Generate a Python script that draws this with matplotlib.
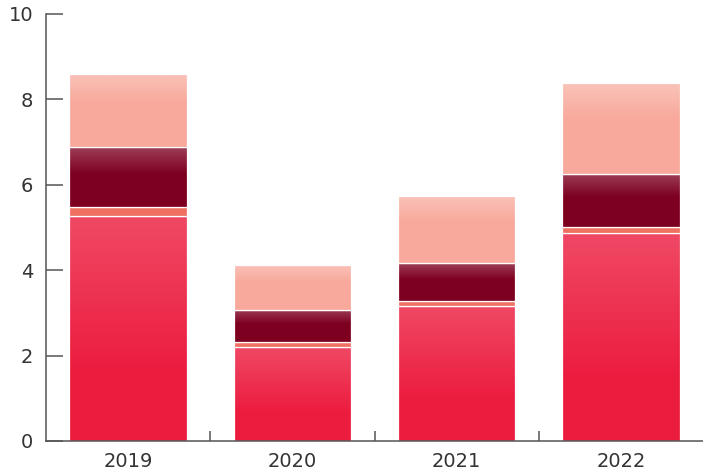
import matplotlib
matplotlib.use("Agg")
import matplotlib.pyplot as plt
import numpy as np

years = ["2019", "2020", "2021", "2022"]
seg1 = [5.28, 2.21, 3.17, 4.86]
seg2 = [0.21, 0.10, 0.12, 0.14]
seg3 = [1.39, 0.76, 0.87, 1.26]
seg4 = [1.71, 1.06, 1.58, 2.13]
series = [seg1, seg2, seg3, seg4]
colors = ["#EC1C3F", "#F07062", "#7D0020", "#F8A99B"]
grad_alpha = [0.20, 0.0, 0.25, 0.30]
grad_span = [0.7, 1.0, 0.45, 0.4]
y_ticks = [0, 2, 4, 6, 8, 10]

fig = plt.figure(figsize=(7.03, 4.72), dpi=100)
ax = fig.add_axes([46/703, 1 - 441/472, 1 - 46/703, (441 - 14)/472])

x = np.arange(len(years))
width = 0.715
bottom = np.zeros(len(years))
t = np.linspace(0, 1, 256).reshape(-1, 1)  # 0 at top (origin upper)
for vals, col, ga, gs in zip(series, colors, grad_alpha, grad_span):
    bars = ax.bar(x, vals, width, bottom=bottom, color=col, edgecolor="white",
                  linewidth=0.9, zorder=2)
    if ga > 0:
        for b in bars:
            x0, y0 = b.get_x(), b.get_y()
            w, h = b.get_width(), b.get_height()
            img = np.zeros((256, 1, 4))
            img[..., :3] = 1.0
            img[..., 3] = np.clip(1 - t / gs, 0, 1)[:, 0:1] * ga
            im = ax.imshow(img, extent=(x0, x0 + w, y0, y0 + h), aspect="auto",
                           origin="upper", zorder=3, interpolation="bilinear")
            im.set_clip_path(b)
    bottom += np.array(vals)

ax.set_xlim(-0.5, 3.5)
ax.set_ylim(0, 10)
ax.set_yticks(y_ticks)
ax.set_xticks(x)
ax.set_xticklabels(years)
ax.set_xticks([0.5, 1.5, 2.5], minor=True)

for s in ["top", "right"]:
    ax.spines[s].set_visible(False)
for s in ["left", "bottom"]:
    ax.spines[s].set_color("#555555")
    ax.spines[s].set_linewidth(1.1)

ax.tick_params(axis="y", direction="in", length=12, width=1.1, color="#555555",
               labelsize=14, labelcolor="#333333", pad=9)
ax.tick_params(axis="x", which="major", length=0, labelsize=14,
               labelcolor="#333333", pad=8)
ax.tick_params(axis="x", which="minor", direction="in", length=7, width=1.1,
               color="#555555")

fig.savefig("out.png", dpi=100)
